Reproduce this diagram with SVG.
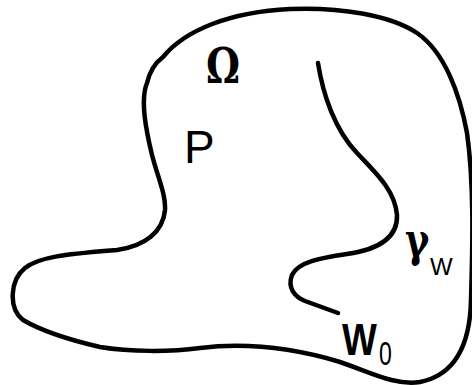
<svg xmlns="http://www.w3.org/2000/svg" width="472" height="385" viewBox="0 0 472 385">
<style>
.ln{fill:none;stroke:#000;stroke-width:4.5;stroke-linecap:round;stroke-linejoin:round}
.sans{font-family:"Liberation Sans",Arial,sans-serif;fill:#000}
.serif{font-family:"DejaVu Serif","Liberation Serif",serif;fill:#000}
</style>
<rect width="472" height="385" fill="#fff"/>
<g id="connectors">
<path id="boundary" class="ln" d="M163,57 C185,30 230,12 290,9 C340,7 390,15 417,33 C445,52 460,95 467,133 C475,190 472,260 471,300 C470,345 455,375 420,382 C395,386 370,372 340,362 C300,350 250,342 200,348 C170,352 130,352 100,347 C70,340 40,330 23,320 C8,308 10,280 25,268 C40,256 70,254 117,250 C145,246 163,232 165,210 C166,195 158,178 152,155 C146,130 140,100 147,83 C150,70 155,63 163,57 Z"/>
<path id="crack" class="ln" d="M318,63 C323,95 335,130 357,153 C375,172 395,190 397,215 C398,240 375,250 347,254 C320,258 298,262 292,275 C287,288 295,297 305,301 L338,313"/>
</g>
<g id="omega"><text class="serif" x="206" y="83" font-size="48" font-weight="bold" textLength="34" lengthAdjust="spacingAndGlyphs">Ω</text></g>
<g id="P"><text class="sans" x="184" y="163" font-size="46">P</text></g>
<g id="gammaW"><text class="serif" transform="translate(405,256) scale(0.8,1)" font-size="46" font-weight="bold">γ</text><text class="sans" x="430" y="275" font-size="24">W</text></g>
<g id="W0"><text class="sans" transform="translate(342,355) scale(0.84,1)" font-size="44" font-weight="bold">W</text><text class="sans" transform="translate(379,365) scale(0.7,1)" font-size="33">0</text></g>
</svg>
